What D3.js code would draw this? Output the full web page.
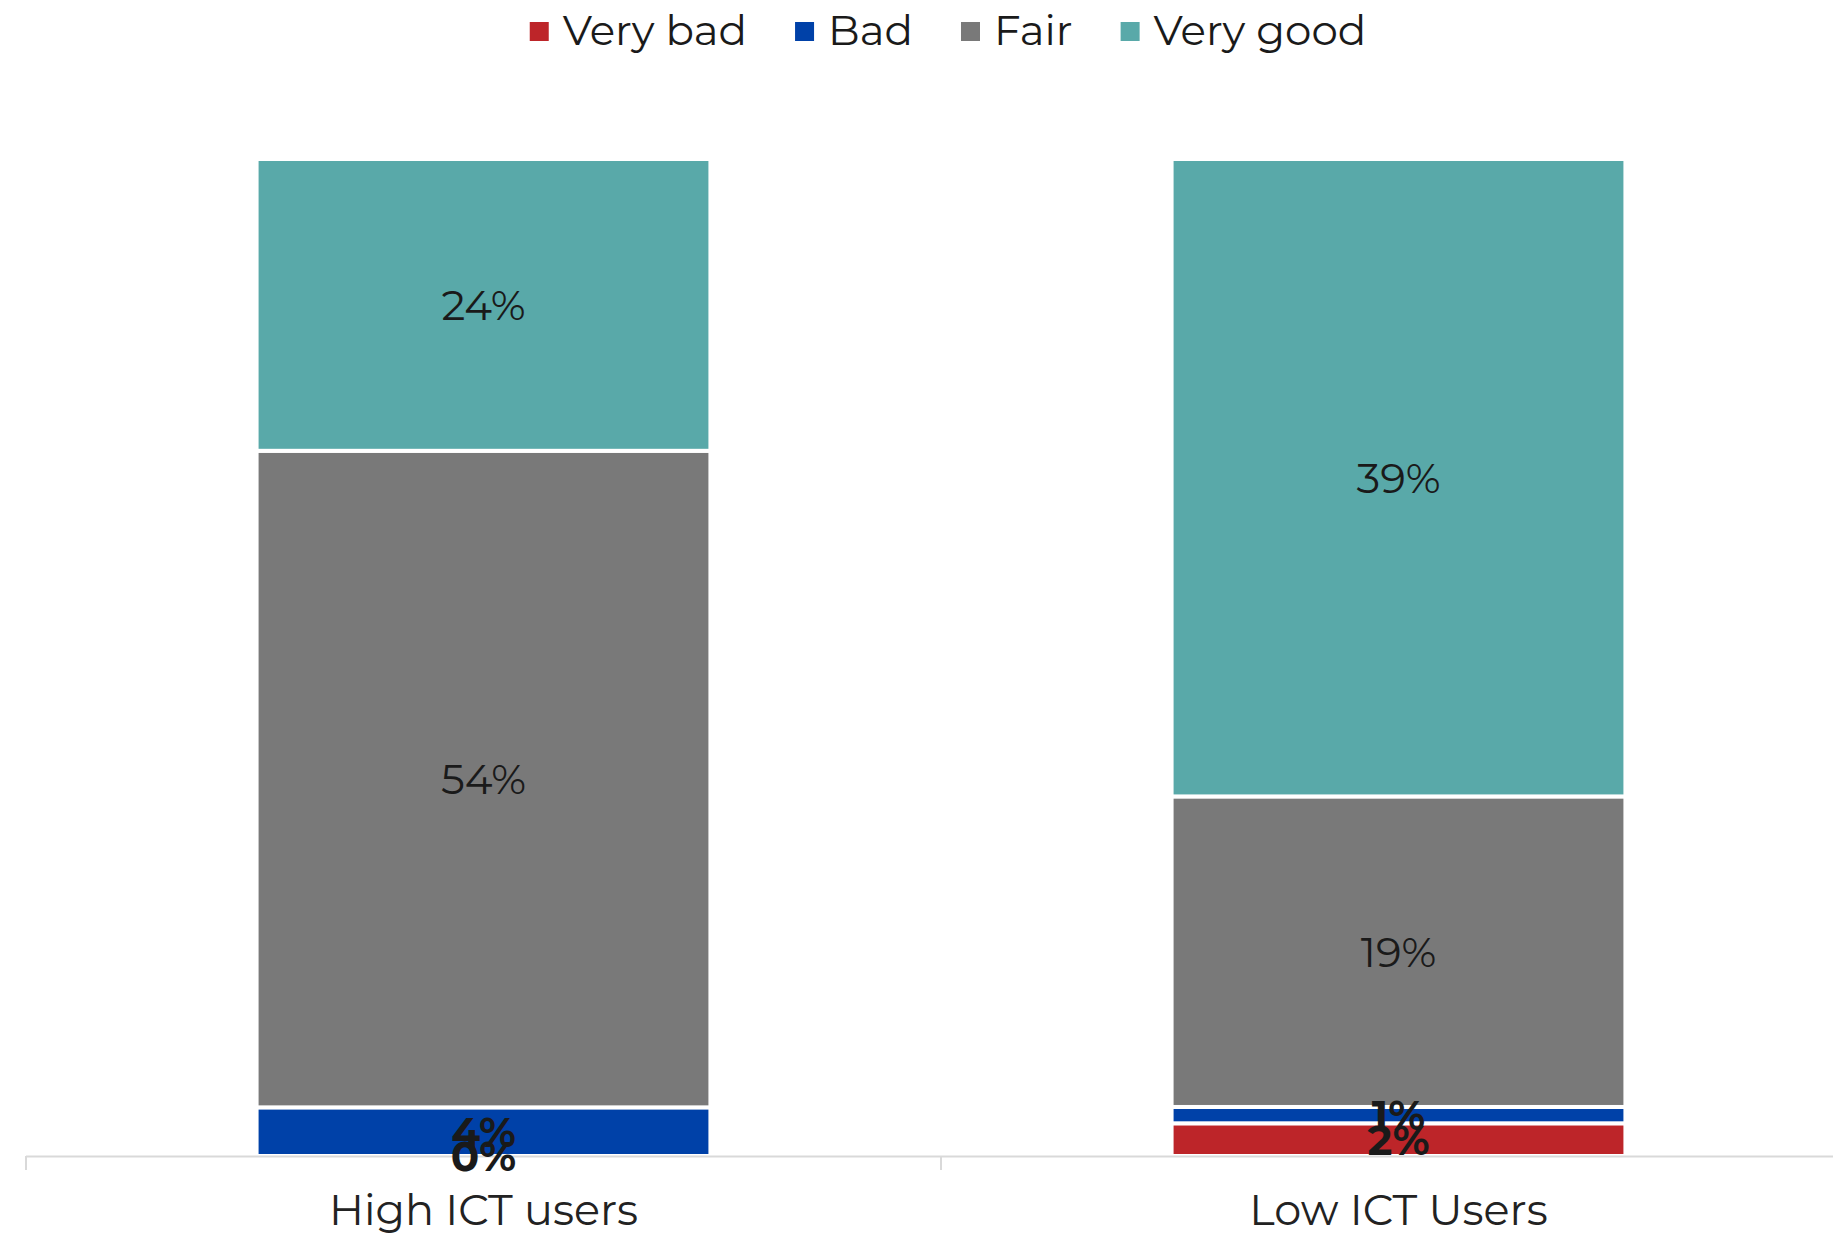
<!DOCTYPE html>
<html>
<head>
<meta charset="utf-8">
<script src="https://cdn.jsdelivr.net/npm/d3@7"></script>
<style>
  html, body { margin: 0; padding: 0; background: #fff; }
  svg { display: block; font-family: Montserrat, Inter, "Open Sans", sans-serif; }
</style>
</head>
<body>
<svg id="chart" width="1833" height="1235"></svg>
<script>
// Survey response shares by group (percent)
const groups = ["High ICT users", "Low ICT Users"];
const ratings = ["Very bad", "Bad", "Fair", "Very good"];
const veryBad  = [0, 2];
const bad      = [4, 1];
const fair     = [54, 19];
const veryGood = [24, 39];
const colors   = ["#bd2529", "#0041a8", "#797979", "#59a9a9"];

const seriesValues = [veryBad, bad, fair, veryGood];
const rows = groups.map((g, i) => {
  const r = { group: g };
  ratings.forEach((k, j) => { r[k] = seriesValues[j][i]; });
  return r;
});

const svg = d3.select("#chart");

const x = d3.scaleBand().domain(groups).range([26, 1856]).padding(0);
const y = d3.scaleLinear().domain([0, 1]).range([1156, 159]);
const color = d3.scaleOrdinal().domain(ratings).range(colors);

// Each bar is stacked to its own total
const stacked = d3.stack().keys(ratings).offset(d3.stackOffsetExpand)(rows);

const barFrac = 0.496;
const bw = x.bandwidth() * barFrac;
const bx = g => x(g) + (x.bandwidth() - bw) / 2;

const layers = svg.append("g").selectAll("g")
  .data(stacked).join("g")
  .attr("fill", d => color(d.key));

layers.selectAll("rect")
  .data(d => d.map(p => ({ key: d.key, p })))
  .join("rect")
  .attr("x", d => bx(d.p.data.group))
  .attr("width", bw)
  .attr("y", d => y(d.p[1]))
  .attr("height", d => Math.max(0, y(d.p[0]) - y(d.p[1])))
  .attr("stroke", "#fff")
  .attr("stroke-width", d => (y(d.p[0]) - y(d.p[1])) > 0 ? 4 : 0);

// Axis baseline with boundary ticks
const axisG = svg.append("g");
axisG.append("line")
  .attr("x1", x.range()[0]).attr("x2", x.range()[1])
  .attr("y1", 1156.5).attr("y2", 1156.5)
  .attr("stroke", "#d9d9d9").attr("stroke-width", 2);
const bounds = groups.map(g => x(g)).concat([x(groups[groups.length - 1]) + x.bandwidth()]);
axisG.selectAll("line.tick").data(bounds).join("line")
  .attr("class", "tick")
  .attr("x1", d => d).attr("x2", d => d)
  .attr("y1", 1156).attr("y2", 1170)
  .attr("stroke", "#d9d9d9").attr("stroke-width", 2);

// Category labels
const xAxis = svg.append("g")
  .attr("transform", "translate(0,1225)")
  .call(d3.axisBottom(x).tickSize(0).tickPadding(0));
xAxis.select(".domain").remove();
xAxis.selectAll("text")
  .attr("dy", 0).attr("y", 0)
  .attr("fill", "#222")
  .style("font-family", "Montserrat, Inter, 'Open Sans', sans-serif")
  .style("font-size", "43px");

// Value labels at each segment's middle
const labels = [];
stacked.forEach(layer => {
  layer.forEach(p => {
    labels.push({ key: layer.key, value: p.data[layer.key], y0: p[0], y1: p[1], group: p.data.group });
  });
});
svg.append("g").selectAll("text")
  .data(labels).join("text")
  .attr("x", d => x(d.group) + x.bandwidth() / 2)
  .attr("y", d => y((d.y0 + d.y1) / 2))
  .attr("dy", "0.36em")
  .attr("text-anchor", "middle")
  .attr("fill", "#1a1a1a")
  .attr("font-weight", d => d.value < 5 ? 700 : 400)
  .style("font-size", "42px")
  .text(d => d.value + "%");

// Legend, centred across the top
const legend = svg.append("g");
const items = legend.selectAll("g").data(ratings).join("g");
items.append("rect")
  .attr("width", 19).attr("height", 19)
  .attr("y", 22)
  .attr("fill", d => color(d));
items.append("text")
  .attr("x", 33).attr("y", 45)
  .attr("fill", "#1a1a1a")
  .style("font-size", "42px")
  .text(d => d);
const widths = [];
items.each(function () {
  const w = 33 + d3.select(this).select("text").node().getComputedTextLength();
  widths.push(w);
});
const gap = 48;
const total = d3.sum(widths) + gap * (widths.length - 1);
let start = 948 - total / 2;
items.attr("transform", (d, i) => {
  const t = `translate(${start},0)`;
  start += widths[i] + gap;
  return t;
});
</script>
</body>
</html>
